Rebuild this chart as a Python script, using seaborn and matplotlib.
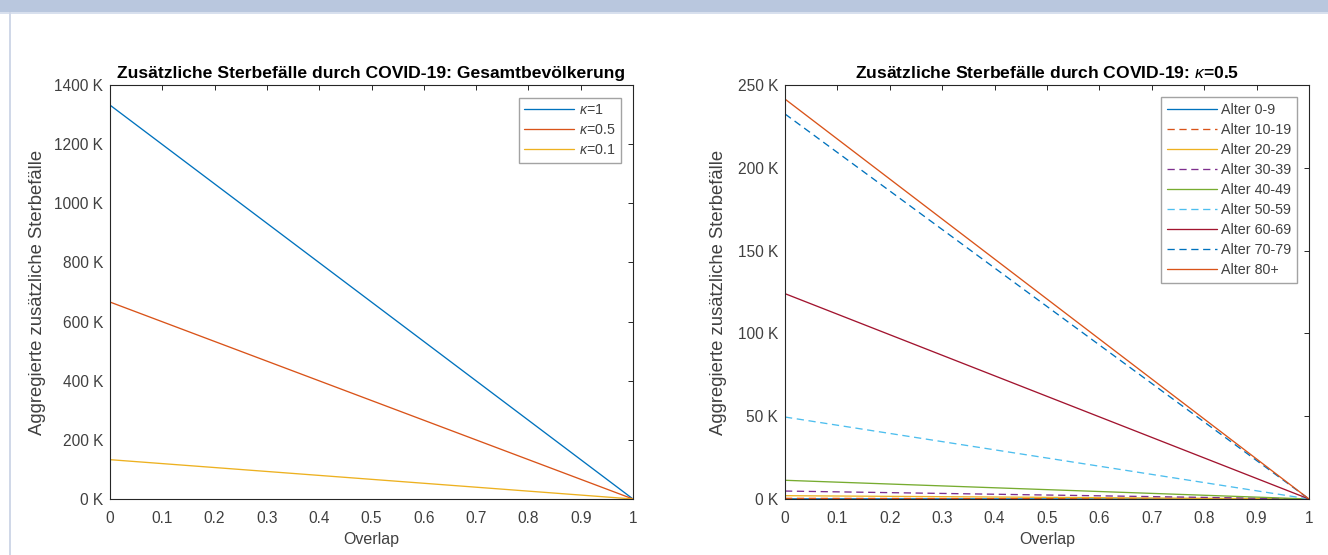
import numpy as np
import pandas as pd
import matplotlib
matplotlib.use("Agg")
import matplotlib.pyplot as plt
from matplotlib.patches import Rectangle
import seaborn as sns

# ---------------- data (values in thousands, "K") ----------------
overlap = [0.0, 1.0]

kappa_labels = [r"$\kappa$=1", r"$\kappa$=0.5", r"$\kappa$=0.1"]
kappa_start_K = [1332, 666, 133]
kappa_end_K = [0, 0, 0]

age_groups = ["Alter 0-9", "Alter 10-19", "Alter 20-29", "Alter 30-39",
              "Alter 40-49", "Alter 50-59", "Alter 60-69", "Alter 70-79",
              "Alter 80+"]
age_start_K = [0.1, 0.4, 2.0, 4.8, 11.3, 49.5, 124.0, 232.5, 241.5]
age_end_K = [0, 0, 0, 0, 0, 0, 0, 0, 0]

left_yticks = [0, 200, 400, 600, 800, 1000, 1200, 1400]
right_yticks = [0, 50, 100, 150, 200, 250]
xticks = [0, 0.1, 0.2, 0.3, 0.4, 0.5, 0.6, 0.7, 0.8, 0.9, 1]
xtick_labels = ["0", "0.1", "0.2", "0.3", "0.4", "0.5", "0.6", "0.7", "0.8", "0.9", "1"]

title_left = "Zusätzliche Sterbefälle durch COVID-19: Gesamtbevölkerung"
title_right = r"Zusätzliche Sterbefälle durch COVID-19: $\kappa$=0.5"
ylabel = "Aggregierte zusätzliche Sterbefälle"
xlabel = "Overlap"

kappa_colors = ["#0072BD", "#D95319", "#EDB120"]
age_colors = ["#0072BD", "#D95319", "#EDB120", "#7E2F8E", "#77AC30",
              "#4DBEEE", "#A2142F", "#0072BD", "#D95319"]
age_dashed = [False, True, False, True, False, True, False, True, False]

# ---------------- long tables ----------------
df_k = pd.DataFrame({
    "overlap": overlap * len(kappa_labels),
    "value": [v for s, e in zip(kappa_start_K, kappa_end_K) for v in (s, e)],
    "series": [k for k in kappa_labels for _ in overlap],
})
df_a = pd.DataFrame({
    "overlap": overlap * len(age_groups),
    "value": [v for s, e in zip(age_start_K, age_end_K) for v in (s, e)],
    "series": [g for g in age_groups for _ in overlap],
})

# ---------------- style ----------------
sns.set_style("white")
plt.rcParams["font.family"] = ["Liberation Sans", "DejaVu Sans"]
plt.rcParams["mathtext.fontset"] = "custom"
plt.rcParams["mathtext.rm"] = "Liberation Sans"
plt.rcParams["mathtext.it"] = "Liberation Sans:italic"
plt.rcParams["mathtext.bf"] = "Liberation Sans:bold"

TXT = "#404040"
AXC = "#262626"

fig = plt.figure(figsize=(13.28, 5.55), dpi=100)
W, H = 1328, 555

# window decoration
fig.patches.append(Rectangle((0, 1 - 12 / H), 1, 12 / H, transform=fig.transFigure,
                             facecolor="#B9C7DE", edgecolor="none", zorder=0))
fig.patches.append(Rectangle((0, 1 - 13.5 / H), 1, 1.5 / H, transform=fig.transFigure,
                             facecolor="#D8E0EE", edgecolor="none", zorder=0))
fig.patches.append(Rectangle((8.5 / W, 0), 2.5 / W, 1 - 12 / H, transform=fig.transFigure,
                             facecolor="#D0D8E8", edgecolor="none", zorder=0))

axL = fig.add_axes([110 / W, 1 - 499 / H, 523 / W, 414 / H])
axR = fig.add_axes([785 / W, 1 - 499 / H, 524 / W, 414 / H])

LW = 0.95

sns.lineplot(data=df_k, x="overlap", y="value", hue="series",
             hue_order=kappa_labels, palette=dict(zip(kappa_labels, kappa_colors)),
             linewidth=LW, ax=axL)

dash_map = {g: ((5.5, 3.5) if d else "") for g, d in zip(age_groups, age_dashed)}
sns.lineplot(data=df_a, x="overlap", y="value", hue="series", style="series",
             hue_order=age_groups, style_order=age_groups,
             palette=dict(zip(age_groups, age_colors)), dashes=dash_map,
             linewidth=LW, ax=axR)


def style_axes(ax, yticks, ylim, title, ylabelpad):
    ax.set_xlim(0, 1)
    ax.set_ylim(*ylim)
    ax.set_xticks(xticks)
    ax.set_xticklabels(xtick_labels)
    ax.set_yticks(yticks)
    ax.set_yticklabels([f"{v} K" for v in yticks])
    ax.tick_params(direction="in", top=True, right=True, length=3.8, width=0.7,
                   color=AXC, labelsize=11.2, labelcolor=TXT)
    ax.tick_params(axis="x", pad=8.5)
    ax.tick_params(axis="y", pad=5)
    for s in ax.spines.values():
        s.set_color(AXC)
        s.set_linewidth(0.8)
    ax.set_title(title, fontsize=12.6, fontweight="bold", color="#000000", pad=5)
    ax.set_xlabel(xlabel, fontsize=11.5, color=TXT, labelpad=4.5)
    ax.set_ylabel(ylabel, fontsize=13.3, color=TXT, labelpad=ylabelpad)


style_axes(axL, left_yticks, (0, 1400), title_left, 6)
style_axes(axR, right_yticks, (0, 250), title_right, 8)

for ax, w in ((axL, 523), (axR, 524)):
    sns.move_legend(ax, "upper right", bbox_to_anchor=(1 - 12 / w, 1 - 12.5 / 414),
                    borderaxespad=0, frameon=True, fancybox=False, fontsize=10.3,
                    title=None, handlelength=3.5, handletextpad=0.3,
                    labelspacing=0.42, borderpad=0.4)
    leg = ax.get_legend()
    leg.get_frame().set_edgecolor("#8C8C8C")
    leg.get_frame().set_linewidth(1.0)
    for t in leg.get_texts():
        t.set_color(TXT)
    for h in leg.legend_handles:
        h.set_linewidth(LW)

fig.savefig("out.png", dpi=100, facecolor="white")
